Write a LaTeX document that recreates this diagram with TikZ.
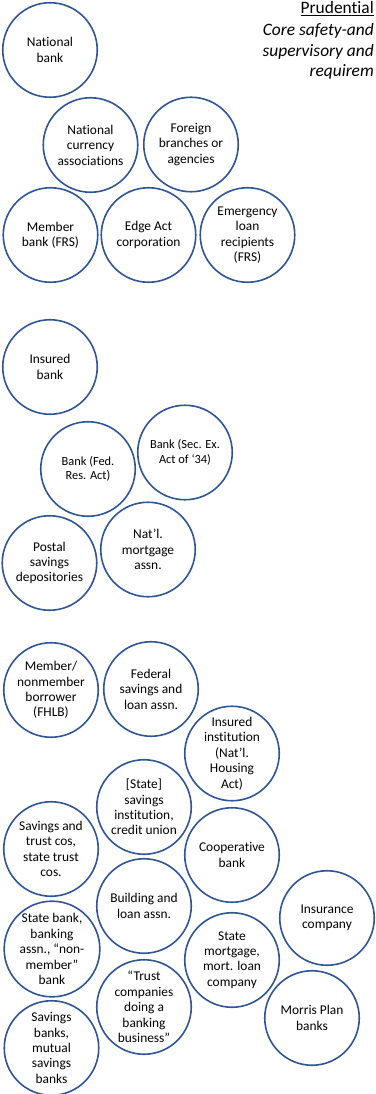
\documentclass[tikz,border=0pt]{standalone}
\usepackage{fontspec}
\setmainfont{Carlito}[Ligatures=NoCommon]
\definecolor{darkblue}{HTML}{2F5597}
\usepackage{tikz}

\begin{document}
\begin{tikzpicture}
  [x=1pt, y=-1pt,
   inst/.style={draw=darkblue, line width=1.6pt, fill=white, circle, minimum size=94.5pt,
                inner sep=0pt, align=center, font=\fontsize{13.4}{15.4}\selectfont},
   small/.style={font=\fontsize{12.4}{14.6}\selectfont},
   head/.style={anchor=base east, inner sep=0pt, font=\fontsize{17.4}{21}\selectfont}]

  \useasboundingbox (0,0) rectangle (375,1094);

  %Heading in the upper right corner
  \node[head] (prud) at (374,13.5) {\underline{Prudential}};
  \node[head] (core) at (374,35.5) {\itshape Core safety-and};
  \node[head] (supv) at (374,56.5) {\itshape supervisory and};
  \node[head] (reqm) at (374,77) {\itshape requirem};

  %Draw first group (national banks, FRS)
  \draw node[inst] at (50,50)      (natbank)  {National\\bank};
  \draw node[inst] at (90.5,145)   (natcur)   {National\\currency\\associations};
  \draw node[inst] at (191,144.5)  (foreign)  {Foreign\\branches or\\agencies};
  \draw node[inst] at (50.5,235)   (member)   {Member\\bank (FRS)};
  \draw node[inst] at (148.5,235)  (edge)     {Edge Act\\corporation};
  \draw node[inst] at (247.5,235)  (emerg)    {Emergency\\loan\\recipients\\(FRS)};

  %Draw second group (insured banks)
  \draw node[inst] at (50,367)     (insbank)  {Insured\\bank};
  \draw node[inst,small] at (88,469)    (fedres)   {Bank (Fed.\\Res. Act)};
  \draw node[inst,small] at (185,452.5) (secex)    {Bank (Sec. Ex.\\Act of ‘34)};
  \draw node[inst] at (49.5,563)   (postal)   {Postal\\savings\\depositories};
  \draw node[inst] at (148,549.5)  (natmort)  {Nat’l.\\mortgage\\assn.};

  %Draw third group (savings, state and other institutions)
  \draw node[inst] at (51,690)     (fhlb)     {Member/\\nonmember\\borrower\\(FHLB)};
  \draw node[inst] at (151,689)    (fedsav)   {Federal\\savings and\\loan assn.};
  \draw node[inst] at (232,753.5)  (insinst)  {Insured\\institution\\(Nat’l.\\Housing\\Act)};
  \draw node[inst] at (144,807)    (statesav) {[State]\\savings\\institution,\\credit union};
  \draw node[inst] at (51,849)     (savtrust) {Savings and\\trust cos,\\state trust\\cos.};
  \draw node[inst] at (232,855)    (coop)     {Cooperative\\bank};
  \draw node[inst] at (144,906)    (building) {Building and\\loan assn.};
  \draw node[inst] at (327,918)    (insur)    {Insurance\\company};
  \draw node[inst] at (52,949)     (statebank){State bank,\\banking\\assn., “non-\\member”\\bank};
  \draw node[inst] at (232,960)    (statemort){State\\mortgage,\\mort. loan\\company};
  \draw node[inst] at (144,1007)   (trustco)  {“Trust\\companies\\doing a\\banking\\business”};
  \draw node[inst] at (312,1018)   (morris)   {Morris Plan\\banks};
  \draw node[inst] at (51.5,1048)  (mutual)   {Savings\\banks,\\mutual\\savings\\banks};
\end{tikzpicture}
\end{document}
